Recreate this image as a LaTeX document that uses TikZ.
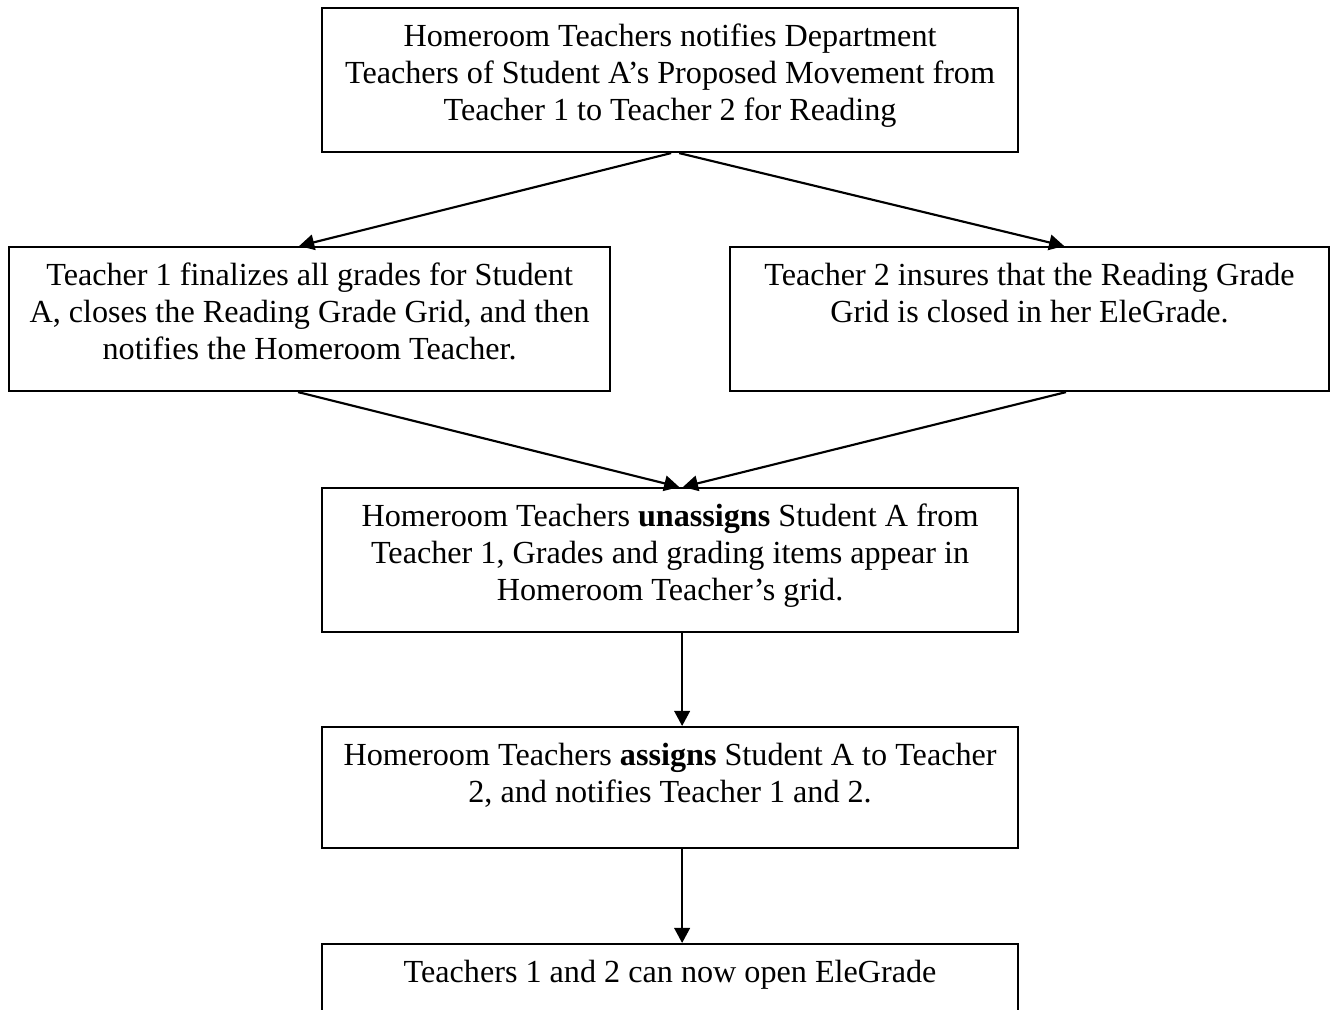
\documentclass[tikz,border=0pt]{standalone}
\usepackage{fontspec}
\setmainfont{Liberation Serif}
\usetikzlibrary{arrows.meta}

\begin{document}
\begin{tikzpicture}
  [x=0.373pt,y=-0.373pt,line width=0.8pt,
   every node/.style={draw,rectangle,inner sep=0pt,anchor=north west,align=center,
     font=\fontsize{12pt}{13.8pt}\selectfont,text height=14.2pt,text depth=39.5pt,
     execute at begin node={\spaceskip=0.25em\xspaceskip=0.25em}},
   wide/.style={text width=259.6pt},
   half/.style={text width=224.2pt},
   short/.style={text depth=30.9pt},
   flow/.style={-{Triangle[length=5.6pt,width=5.8pt]}}]
  \useasboundingbox (0,0) rectangle (1331,1010);

  \node[wide] (notify) at (321,7) {Homeroom Teachers notifies Department\\
    Teachers of Student A’s Proposed Movement from\\ Teacher 1 to Teacher 2 for Reading};
  \node[half] (finalize) at (8,246) {Teacher 1 finalizes all grades for Student\\
    A, closes the Reading Grade Grid, and then\\ notifies the Homeroom Teacher.};
  \node[half,text width=223.4pt] (insure) at (729,246) {Teacher 2 insures that the Reading Grade\\
    Grid is closed in her EleGrade.};
  \node[wide] (unassign) at (321,487) {Homeroom Teachers \textbf{unassigns} Student A from\\
    Teacher 1, Grades and grading items appear in\\ Homeroom Teacher’s grid.};
  \node[wide,short] (assign) at (321,726) {Homeroom Teachers \textbf{assigns} Student A to Teacher\\
    2, and notifies Teacher 1 and 2.};
  \node[wide] (open) at (321,943) {Teachers 1 and 2 can now open EleGrade};

  \coordinate (notifyL) at ([xshift=0.4pt]notify.south);
  \coordinate (notifyR) at ([xshift=3.4pt]notify.south);
  \coordinate (finalizeT) at ([xshift=-3.9pt]finalize.north);
  \coordinate (finalizeB) at ([xshift=-4.3pt]finalize.south);
  \coordinate (insureT) at ([xshift=12.9pt]insure.north);
  \coordinate (insureB) at ([xshift=13.6pt]insure.south);
  \coordinate (unassignL) at ([xshift=3.4pt]unassign.north);
  \coordinate (unassignR) at ([xshift=4.8pt]unassign.north);
  \coordinate (unassignB) at ([xshift=4.5pt]unassign.south);
  \coordinate (assignT) at ([xshift=4.5pt]assign.north);
  \coordinate (assignB) at ([xshift=4.5pt]assign.south);
  \coordinate (openT) at ([xshift=4.5pt]open.north);

   \foreach \from/\to in {notifyL/finalizeT,notifyR/insureT,finalizeB/unassignL,
     insureB/unassignR,unassignB/assignT,assignB/openT}
    \draw[flow] (\from) -- (\to);
\end{tikzpicture}
\end{document}
